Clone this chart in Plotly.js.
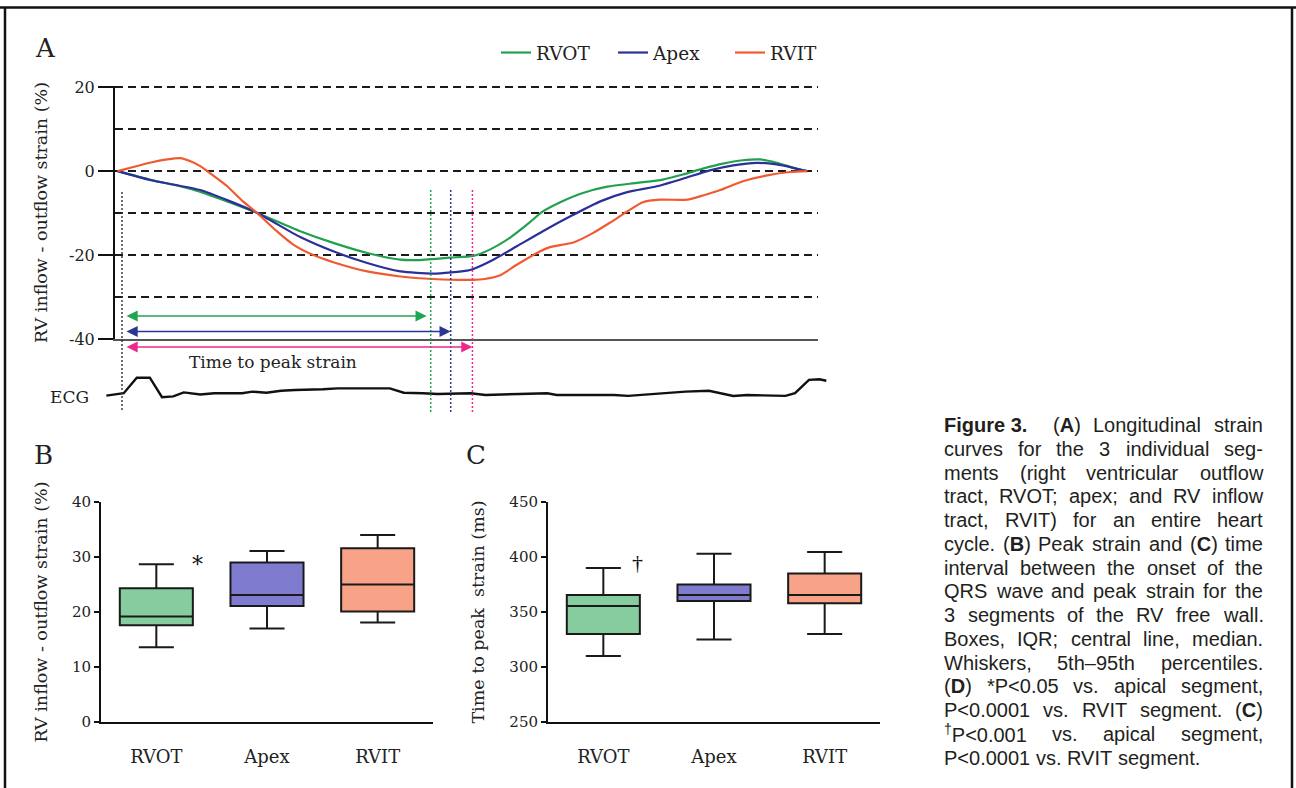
<!DOCTYPE html>
<html><head><meta charset="utf-8">
<script src="https://cdn.plot.ly/plotly-3.0.1.min.js"></script>
<style>html,body{margin:0;padding:0;background:#fff}#chart{width:1296px;height:788px}</style>
</head><body><div id="chart"></div>
<script>
// ---------------- DATA ----------------
const segments = ['RVOT', 'Apex', 'RVIT'];

// Panel A: longitudinal strain curves (time in ms from QRS onset, strain in %)
const timeRVOT   = [-5, 32, 82, 121, 155, 205, 243, 282, 320, 339, 377, 404, 423, 446, 466, 484, 504, 530, 558, 592, 622, 645, 668, 691, 714, 734, 753, 772, 788];
const strainRVOT = [0, -2.0, -4.4, -7.2, -9.9, -14.3, -17.1, -19.5, -21.1, -21.2, -20.6, -20.2, -18.7, -15.9, -12.7, -9.6, -7.4, -5.2, -3.7, -2.8, -2.0, -0.8, 0.6, 1.8, 2.6, 2.8, 2.0, 0.8, 0];
const timeApex   = [-5, 32, 90, 121, 155, 205, 243, 282, 320, 358, 397, 404, 427, 454, 484, 519, 550, 581, 615, 645, 676, 703, 730, 753, 772, 788];
const strainApex = [0, -2.1, -4.5, -6.9, -9.9, -15.7, -19.1, -21.9, -23.9, -24.4, -23.7, -23.3, -21.1, -17.9, -14.3, -10.4, -7.2, -5.0, -3.6, -1.8, 0.2, 1.4, 2.0, 1.6, 0.8, 0];
const timeRVIT   = [-5, 6, 32, 52, 67, 78, 90, 98, 121, 139, 155, 178, 197, 220, 243, 282, 320, 358, 404, 417, 435, 454, 481, 492, 519, 542, 561, 581, 599, 619, 650, 668, 688, 714, 742, 768, 788];
const strainRVIT = [0, 0.6, 2.0, 2.8, 3.1, 2.4, 1.2, 0, -3.6, -7.2, -9.9, -14.3, -17.5, -20.0, -21.7, -23.9, -25.1, -25.7, -25.9, -25.7, -24.8, -22.3, -19.1, -18.1, -17.0, -14.7, -12.3, -9.6, -7.4, -6.8, -6.8, -5.8, -4.5, -2.4, -1.0, -0.2, 0];
const peakTimes  = [355, 378, 403];   // time to peak strain (ms) for RVOT, Apex, RVIT
const strainTicks = [-40, -20, 0, 20];
const strainTickText = ['-40', '-20', '0', '20'];

// ECG trace (ms, mV)
const ecgTime = [-18, 2, 17, 32, 46, 59, 71, 90, 106, 138, 150, 166, 183, 199, 231, 248, 308, 324, 346, 363, 401, 418, 457, 489, 500, 566, 582, 620, 648, 675, 687, 703, 719, 763, 774, 790, 802, 810];
const ecgMv   = [-0.1, 0.05, 1.02, 1.02, -0.2, -0.15, 0.1, -0.03, 0.05, 0.05, 0.15, 0.08, 0.2, 0.25, 0.3, 0.35, 0.35, 0.08, 0.05, 0, 0.05, -0.06, 0, 0.05, -0.06, -0.06, -0.12, 0.05, 0.15, 0.2, 0.05, -0.12, -0.06, -0.12, 0.05, 0.88, 0.92, 0.83];

// Panel B: peak strain (%) box statistics
const strainLo  = [13.6, 17.0, 18.1];
const strainQ1  = [17.6, 21.1, 20.1];
const strainMed = [19.2, 23.1, 25.0];
const strainQ3  = [24.3, 29.0, 31.6];
const strainHi  = [28.7, 31.1, 34.0];

// Panel C: time to peak strain (ms) box statistics
const ttpLo  = [310, 325, 330];
const ttpQ1  = [330, 360, 358];
const ttpMed = [355.5, 365.5, 365.5];
const ttpQ3  = [365.5, 375, 385];
const ttpHi  = [390, 403, 404.5];

const captionLines = [
  '<b>Figure\u00a03.</b>  (<b>A</b>) Longitudinal strain',
  'curves for the 3 individual seg-',
  'ments (right ventricular outflow',
  'tract, RVOT; apex; and RV inflow',
  'tract, RVIT) for an entire heart',
  'cycle. (<b>B</b>) Peak strain and (<b>C</b>) time',
  'interval between the onset of the',
  'QRS wave and peak strain for the',
  '3 segments of the RV free wall.',
  'Boxes, IQR; central line, median.',
  'Whiskers, 5th\u201395th percentiles.',
  '(<b>D</b>) *P&lt;0.05 vs. apical segment,',
  'P&lt;0.0001 vs. RVIT segment. (<b>C</b>)',
  '<sup>\u2020</sup>P&lt;0.001 vs. apical segment,',
  'P&lt;0.0001 vs. RVIT segment.'
];

// ---------------- STYLE / LAYOUT ----------------
const W = 1296, H = 788;
const PX = v => v / W;
const PY = v => 1 - v / H;
const SERIF = 'DejaVu Serif, Liberation Serif, serif';
const SANS = 'Liberation Sans';
const lineColors = ['#23a04f', '#2b2f98', '#f15a30'];
const arrowColors = ['#1fa552', '#2b3594', '#ec2a8c'];
const boxFills = ['#86cc9f', '#7f7bcf', '#f8a287'];
const ink = '#222';

// time axis mapping for panel A (pixels -> ms)
const t0px = 122, msPerPx = 1.15;
const tAt = p => (p - t0px) * msPerPx;

const traces = [];
const tA = [timeRVOT, timeApex, timeRVIT];
const sA = [strainRVOT, strainApex, strainRVIT];
for (let i = 0; i < 3; i++) {
  traces.push({
    type: 'scatter', mode: 'lines', name: segments[i],
    x: tA[i], y: sA[i], xaxis: 'x', yaxis: 'y',
    line: {color: lineColors[i], width: 2.2, shape: 'spline', smoothing: 0.6},
    showlegend: true
  });
}
traces.push({
  type: 'scatter', mode: 'lines', x: ecgTime, y: ecgMv, xaxis: 'x2', yaxis: 'y2',
  line: {color: '#111', width: 2.4}, showlegend: false
});
for (let i = 0; i < 3; i++) {
  traces.push({
    type: 'box', x: [segments[i]], q1: [strainQ1[i]], median: [strainMed[i]], q3: [strainQ3[i]],
    lowerfence: [strainLo[i]], upperfence: [strainHi[i]],
    xaxis: 'x3', yaxis: 'y3', fillcolor: boxFills[i], line: {color: '#1a1a1a', width: 2},
    width: 0.66, whiskerwidth: 0.48, boxpoints: false, showlegend: false
  });
  traces.push({
    type: 'box', x: [segments[i]], q1: [ttpQ1[i]], median: [ttpMed[i]], q3: [ttpQ3[i]],
    lowerfence: [ttpLo[i]], upperfence: [ttpHi[i]],
    xaxis: 'x4', yaxis: 'y4', fillcolor: boxFills[i], line: {color: '#1a1a1a', width: 2},
    width: 0.66, whiskerwidth: 0.48, boxpoints: false, showlegend: false
  });
}

const tickFontA = {family: SERIF, size: 16, color: ink};
const tickFontB = {family: SERIF, size: 15, color: ink};
const catFont = {family: SERIF, size: 18, color: ink};
const titleFont = {family: SERIF, size: 17.5, color: ink};
const gridStyle = {gridcolor: '#1a1a1a', gridwidth: 1.8, griddash: '8px,5px'};

const layout = {
  width: W, height: H, margin: {l: 0, r: 0, t: 0, b: 0},
  paper_bgcolor: '#fff', plot_bgcolor: 'rgba(0,0,0,0)',
  hovermode: false, boxmode: 'overlay',
  font: {family: SERIF, color: ink},
  showlegend: true,
  legend: {
    orientation: 'h', x: PX(496), xanchor: 'left', y: PY(53), yanchor: 'middle',
    font: {family: SERIF, size: 18.5, color: ink}, bgcolor: 'rgba(0,0,0,0)',
    entrywidth: 72, entrywidthmode: 'pixels', traceorder: 'normal'
  },
  xaxis: {
    domain: [PX(115), PX(818)], range: [tAt(115), tAt(818)], anchor: 'y',
    showline: true, linecolor: '#555', linewidth: 1.5, ticks: '', showticklabels: false,
    showgrid: false, zeroline: false
  },
  yaxis: Object.assign({
    domain: [PY(339), PY(86)], range: [-40, 20.3], anchor: 'x',
    showline: true, linecolor: '#111', linewidth: 2,
    tickmode: 'array', tickvals: strainTicks, ticktext: strainTickText,
    ticks: 'outside', ticklen: 15, tickwidth: 2, tickcolor: '#111',
    tickfont: tickFontA, showgrid: true,
    minor: Object.assign({tickmode: 'linear', dtick: 10, tick0: 0, showgrid: true, ticks: ''}, gridStyle),
    zeroline: false,
    title: {text: 'RV inflow - outflow strain (%)', font: titleFont, standoff: 17}
  }, gridStyle),
  xaxis2: {domain: [PX(100), PX(832)], range: [tAt(100), tAt(832)], anchor: 'y2', visible: false},
  yaxis2: {domain: [PY(402), PY(370)], range: [-0.5, 1.5], anchor: 'x2', visible: false},
  xaxis3: {
    domain: [PX(101), PX(433)], type: 'category', categoryorder: 'array', categoryarray: segments,
    range: [-0.5, 2.5], anchor: 'y3', showline: true, linecolor: '#111', linewidth: 2,
    ticks: '', tickfont: catFont, ticklabelstandoff: 17, showgrid: false, zeroline: false
  },
  yaxis3: {
    domain: [PY(722), PY(502)], range: [0, 40], anchor: 'x3', dtick: 10,
    showline: true, linecolor: '#111', linewidth: 2, ticks: 'outside', ticklen: 5, tickwidth: 2, tickcolor: '#111',
    tickfont: tickFontB, showgrid: false, zeroline: false,
    title: {text: 'RV inflow - outflow strain (%)', font: titleFont, standoff: 20}
  },
  xaxis4: {
    domain: [PX(548), PX(880)], type: 'category', categoryorder: 'array', categoryarray: segments,
    range: [-0.5, 2.5], anchor: 'y4', showline: true, linecolor: '#111', linewidth: 2,
    ticks: '', tickfont: catFont, ticklabelstandoff: 17, showgrid: false, zeroline: false
  },
  yaxis4: {
    domain: [PY(722), PY(502)], range: [250, 450], anchor: 'x4', dtick: 50,
    showline: true, linecolor: '#111', linewidth: 2, ticks: 'outside', ticklen: 5, tickwidth: 2, tickcolor: '#111',
    tickfont: tickFontB, showgrid: false, zeroline: false,
    title: {text: 'Time to peak  strain (ms)', font: titleFont, standoff: 20}
  },
  shapes: [],
  annotations: []
};

// figure frame
const frame = {color: '#111', width: 2.5};
layout.shapes.push({type: 'line', xref: 'paper', yref: 'paper', x0: 0, x1: 1, y0: PY(7.5), y1: PY(7.5), line: frame});
layout.shapes.push({type: 'line', xref: 'paper', yref: 'paper', x0: PX(5), x1: PX(5), y0: PY(7), y1: 0, line: frame});
layout.shapes.push({type: 'line', xref: 'paper', yref: 'paper', x0: PX(1292), x1: PX(1292), y0: PY(7), y1: 0, line: frame});

// vertical dotted markers: QRS onset + time to peak
layout.shapes.push({type: 'line', xref: 'x', yref: 'paper', x0: 0, x1: 0, y0: PY(192), y1: PY(410),
  line: {color: '#333', width: 1.4, dash: '2px,2px'}});
for (let i = 0; i < 3; i++) {
  layout.shapes.push({type: 'line', xref: 'x', yref: 'paper', x0: peakTimes[i], x1: peakTimes[i], y0: PY(190), y1: PY(412),
    line: {color: arrowColors[i], width: 1.5, dash: '2px,2px'}});
}
// time-to-peak arrows
const arrowY = [316, 331.5, 347];
for (let i = 0; i < 3; i++) {
  layout.annotations.push({
    xref: 'x', yref: 'paper', axref: 'x', ayref: 'paper',
    x: peakTimes[i], y: PY(arrowY[i]), ax: tAt(125), ay: PY(arrowY[i]),
    text: '', showarrow: true, arrowside: 'end+start', arrowhead: 2, startarrowhead: 2,
    arrowsize: 1.4, startarrowsize: 1.4, arrowwidth: 1.6, arrowcolor: arrowColors[i],
    standoff: i === 0 ? 4 : 0, startstandoff: 0
  });
}

function txt(x, y, text, size, family, extra) {
  return Object.assign({xref: 'paper', yref: 'paper', x: PX(x), y: PY(y), text: text, showarrow: false,
    xanchor: 'center', yanchor: 'middle', font: {family: family || SERIF, size: size, color: ink}}, extra || {});
}
layout.annotations.push(txt(45, 48, 'A', 26));
layout.annotations.push(txt(43, 455, 'B', 26));
layout.annotations.push(txt(476, 455, 'C', 26));
layout.annotations.push(txt(273, 362, 'Time to peak strain', 17));
layout.annotations.push(txt(69, 397, 'ECG', 17));
layout.annotations.push({xref: 'x3', yref: 'y3', x: 0.37, y: 28.6, text: '*', showarrow: false,
  font: {family: SERIF, size: 22, color: '#111'}});
layout.annotations.push({xref: 'x4', yref: 'y4', x: 0.31, y: 395, text: '\u2020', showarrow: false,
  font: {family: 'Liberation Serif, serif', size: 22, color: '#111'}});

// justified caption
const capSize = 20, capLeft = 943, capRight = 1262, capTop = 425, capLead = 23.75;
const ctx = document.createElement('canvas').getContext('2d');
function measure(token) {
  let w = 0;
  const re = /<(b|sup)>(.*?)<\/\1>|([^<]+)/g;
  let m;
  while ((m = re.exec(token)) !== null) {
    if (m[1] === 'b') { ctx.font = 'bold ' + capSize + 'px "' + SANS + '"'; w += ctx.measureText(m[2].replace(/&lt;/g, '<')).width; }
    else if (m[1] === 'sup') { ctx.font = Math.round(capSize * 0.7) + 'px "' + SANS + '"'; w += ctx.measureText(m[2]).width; }
    else { ctx.font = capSize + 'px "' + SANS + '"'; w += ctx.measureText(m[3].replace(/&lt;/g, '<')).width; }
  }
  return w;
}
captionLines.forEach((line, li) => {
  const toks = line.split(' ');
  const widths = toks.map(measure);
  const total = widths.reduce((a, b) => a + b, 0);
  const last = li === captionLines.length - 1;
  ctx.font = capSize + 'px "' + SANS + '"';
  const gap = last ? ctx.measureText(' ').width : (capRight - capLeft - total) / (toks.length - 1);
  let x = capLeft;
  toks.forEach((t, k) => {
    if (t !== '') {
      layout.annotations.push({xref: 'paper', yref: 'paper', x: PX(x), y: PY(capTop + li * capLead),
        xanchor: 'left', yanchor: 'middle', text: t, showarrow: false, borderpad: 0,
        font: {family: SANS, size: capSize, color: '#231f20'}});
    }
    x += widths[k] + gap;
  });
});

Plotly.newPlot('chart', traces, layout, {displayModeBar: false, staticPlot: true});
</script>
</body></html>
